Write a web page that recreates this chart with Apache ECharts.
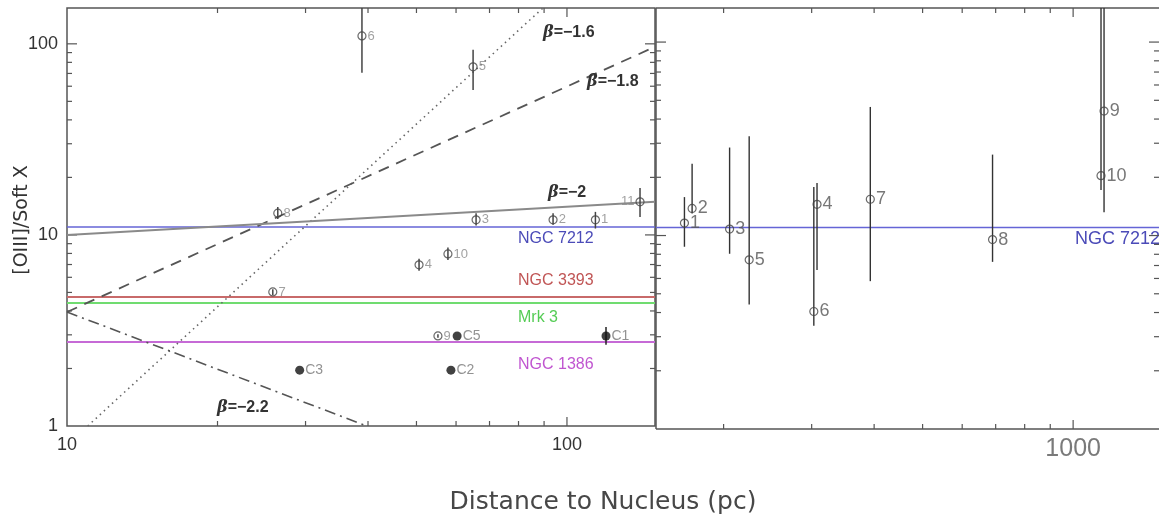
<!DOCTYPE html>
<html lang="en">
<head>
<meta charset="UTF-8">
<title>[OIII]/Soft X vs distance</title>
<script src="https://cdn.jsdelivr.net/npm/echarts@6/dist/echarts.min.js"></script>
<style>
    html, body { margin: 0; padding: 0; background: #fff; }
    #main { width: 1159px; height: 518px; }
</style>
</head>
<body>
<div id="main"></div>
<script type="text/javascript">
    // left panel, open circles (distance pc, ratio, error low/high)
    var innerNames = ['6', '5', '11', '3', '2', '1', '8', '10', '4', '7', '9'];
    var innerDist  = [38.9, 64.9, 140, 65.8, 93.8, 114, 26.4, 57.8, 50.6, 25.8, 55.2];
    var innerRatio = [110, 75.8, 14.9, 12.0, 12.0, 12.0, 13.0, 7.95, 6.97, 5.03, 2.96];
    var innerLow   = [70.5, 57.4, 12.4, 11.2, 11.3, 10.8, 12.1, 7.4, 6.5, 4.85, 2.9];
    var innerHigh  = [154, 93, 17.6, 13.0, 13.0, 13.2, 14.0, 8.6, 7.5, 5.2, 3.02];

    // left panel, filled circles
    var coreNames = ['C1', 'C2', 'C3', 'C5'];
    var coreDist  = [119.7, 58.6, 29.2, 60.3];
    var coreRatio = [2.96, 1.96, 1.96, 2.96];
    var coreLow   = [2.66, 1.96, 1.96, 2.96];
    var coreHigh  = [3.30, 1.96, 1.96, 2.96];

    // right panel, open circles
    var outerNames = ['1', '2', '3', '5', '6', '4', '7', '8', '9', '10'];
    var outerDist  = [167, 173, 205.6, 225, 303, 307.5, 393, 690, 1153, 1137];
    var outerRatio = [11.6, 13.8, 10.8, 7.49, 4.05, 14.5, 15.4, 9.53, 44.0, 20.4];
    var outerLow   = [8.75, 13.0, 8.05, 4.4, 3.42, 6.64, 5.81, 7.31, 13.2, 17.2];
    var outerHigh  = [15.8, 23.5, 28.5, 32.6, 17.8, 18.7, 46.2, 26.2, 150, 150];

    // comparison galaxies (horizontal lines)
    var refNames = ['NGC 7212', 'NGC 3393', 'Mrk 3', 'NGC 1386'];
    var refRatio = [11.0, 4.73, 4.40, 2.75];

    // power-law guides, end points
    var betaNames = ['1.6', '1.8', '2', '2.2'];
    var betaFrom  = [[11.0, 1], [10, 3.95], [10, 10], [10, 3.95]];
    var betaTo    = [[89.5, 154], [150, 96.5], [150, 14.9], [39.8, 1]];

    // tick values
    var xTicksLeft  = [20, 30, 40, 50, 60, 70, 80, 90];
    var xTicksRight = [200, 300, 400, 500, 600, 700, 800, 900];
    var yTicks      = [2, 3, 4, 5, 6, 7, 8, 9, 20, 30, 40, 50, 60, 70, 80, 90];
    var xMajorLeft  = [100];
    var xMajorRight = [1000];
    var yMajor      = [10, 100];

    var FONT = '"Liberation Sans", Arial, sans-serif';

    function decadeLabel(v) {
        var e = Math.log10(v);
        return Math.abs(e - Math.round(e)) < 1e-6 ? String(Math.round(v)) : '';
    }

    function zip(a, b, c) {
        return a.map(function (v, i) { return c ? [v, b[i], c[i]] : [v, b[i]]; });
    }

    // tick marks on all four sides; optional frame lines (right panel has no right edge in view)
    function tickSeries(idx, xMinor, xMajor, ref, frame) {
        return {
            type: 'custom', xAxisIndex: idx, yAxisIndex: idx, silent: true, z: 1,
            data: [ref],
            renderItem: function (params, api) {
                var cs = params.coordSys;
                var l = cs.x, t = cs.y, r = cs.x + cs.width, b = cs.y + cs.height;
                var kids = [];
                function seg(x1, y1, x2, y2, w) {
                    kids.push({type: 'line', shape: {x1: x1, y1: y1, x2: x2, y2: y2},
                        style: {stroke: '#555', lineWidth: w || 1.2}});
                }
                if (frame) {
                    seg(l, t, r, t, 1.5);
                    seg(l, b, r, b, 1.5);
                    seg(l, t, l, b, 1.5);
                }
                xMinor.concat(xMajor).forEach(function (v) {
                    var len = xMajor.indexOf(v) >= 0 ? 9 : 5;
                    var px = api.coord([v, ref[1]])[0];
                    seg(px, b, px, b - len);
                    seg(px, t, px, t + len);
                });
                yTicks.concat(yMajor).forEach(function (v) {
                    var len = yMajor.indexOf(v) >= 0 ? 10 : 5;
                    var py = api.coord([ref[0], v])[1];
                    seg(l, py, l + len, py);
                    seg(r, py, r - len, py);
                });
                return {type: 'group', children: kids};
            }
        };
    }

    function errorSeries(idx, data, color, width) {
        return {
            type: 'custom', xAxisIndex: idx, yAxisIndex: idx, silent: true, z: 4,
            encode: {x: 0, y: [1, 2]},
            data: data,
            renderItem: function (params, api) {
                var lo = api.coord([api.value(0), api.value(1)]);
                var hi = api.coord([api.value(0), api.value(2)]);
                return {type: 'line', shape: {x1: lo[0], y1: lo[1], x2: hi[0], y2: hi[1]},
                    style: {stroke: color, lineWidth: width}};
            }
        };
    }

    function pointSeries(idx, xs, ys, names, filled, labelStyle) {
        return {
            type: 'scatter', xAxisIndex: idx, yAxisIndex: idx, z: 5,
            symbol: 'circle',
            symbolSize: filled ? 9 : 8,
            itemStyle: filled ? {color: '#111'} : {color: 'transparent', borderColor: '#444', borderWidth: 1.2},
            data: xs.map(function (x, i) {
                var item = {value: [x, ys[i]], name: names[i]};
                if (names[i] === '11' && idx === 0) item.label = {position: 'left'};
                return item;
            }),
            label: Object.assign({show: true, position: 'right', distance: 1, formatter: '{b}', fontFamily: FONT}, labelStyle)
        };
    }

    var refColors = ['#6565d6', '#c86a6a', '#70dc70', '#c66ad6'];
    var refText = ['#4b4bb8', '#c05555', '#55cc55', '#c055d0'];

    var series = [tickSeries(0, xTicksLeft, xMajorLeft, [20, 10], false),
                  tickSeries(1, xTicksRight, xMajorRight, [500, 10], true)];

    refRatio.forEach(function (v, i) {
        series.push({
            type: 'line', xAxisIndex: 0, yAxisIndex: 0, z: 2, symbol: 'none', silent: true,
            lineStyle: {color: refColors[i], width: i === 0 ? 1.5 : 2},
            data: [[10, v], [150, v]]
        });
    });
    series.push({
        type: 'line', xAxisIndex: 1, yAxisIndex: 1, z: 2, symbol: 'none', silent: true,
        lineStyle: {color: refColors[0], width: 1.5},
        data: [[146.5, refRatio[0]], [1485, refRatio[0]]]
    });

    var betaStyles = [
        {color: '#666', width: 1.6, type: [1.5, 4]},
        {color: '#555', width: 1.8, type: [11, 8]},
        {color: '#8a8a8a', width: 2, type: 'solid'},
        {color: '#555', width: 1.6, type: [11, 5, 2, 5]}
    ];
    betaFrom.forEach(function (p, i) {
        series.push({
            type: 'line', xAxisIndex: 0, yAxisIndex: 0, z: 3, symbol: 'none', silent: true,
            lineStyle: betaStyles[i],
            data: [p, betaTo[i]]
        });
    });

    series.push(errorSeries(0, zip(innerDist, innerLow, innerHigh), '#444', 1.5));
    series.push(errorSeries(0, zip(coreDist, coreLow, coreHigh), '#222', 1.5));
    series.push(errorSeries(1, zip(outerDist, outerLow, outerHigh), '#333', 1.4));
    series.push(pointSeries(0, innerDist, innerRatio, innerNames, false, {color: '#8a8a8a', fontSize: 13}));
    series.push(pointSeries(0, coreDist, coreRatio, coreNames, true, {color: '#777', fontSize: 14}));
    series.push(pointSeries(1, outerDist, outerRatio, outerNames, false, {color: '#555', fontSize: 18}));

    function betaText(name, x, y) {
        return {
            type: 'text', x: x, y: y, z: 10,
            style: {
                text: '{b|β}{t|=−' + name + '}',
                textVerticalAlign: 'middle',
                rich: {
                    b: {font: 'italic bold 16px "DejaVu Serif", serif', fill: '#333'},
                    t: {font: 'bold 16px ' + FONT, fill: '#333'}
                }
            }
        };
    }

    var graphics = [
        {type: 'text', x: 603, y: 502, style: {text: 'Distance to Nucleus (pc)', font: '25px "DejaVu Sans", sans-serif',
            fill: '#474747', textAlign: 'center', textVerticalAlign: 'middle'}},
        {type: 'text', x: 22, y: 220, rotation: Math.PI / 2, style: {text: '[OIII]/Soft X', font: '19px "DejaVu Sans", sans-serif',
            fill: '#333', textAlign: 'center', textVerticalAlign: 'middle'}},
        {type: 'text', x: 1075, y: 239, style: {text: refNames[0], font: '18px ' + FONT, fill: refText[0], textVerticalAlign: 'middle'}},
        betaText(betaNames[0], 543, 33),
        betaText(betaNames[1], 587, 82),
        betaText(betaNames[2], 548, 193),
        betaText(betaNames[3], 217, 408)
    ];
    var refLabelY = [239, 281, 318, 365];
    refNames.forEach(function (n, i) {
        graphics.push({type: 'text', x: 518, y: refLabelY[i],
            style: {text: n, font: '16px ' + FONT, fill: refText[i], textVerticalAlign: 'middle'}});
    });

    var hidden = {axisLine: {show: false}, axisTick: {show: false}, splitLine: {show: false}};

    var option = {
        backgroundColor: '#fff',
        animation: false,
        grid: [
            {left: 67, top: 8, width: 588, height: 418, show: true, borderColor: '#555', borderWidth: 1.5, backgroundColor: 'transparent'},
            {left: 656, top: 8, width: 505, height: 421, show: false}
        ],
        xAxis: [
            Object.assign({type: 'log', gridIndex: 0, min: 10, max: 150,
                axisLabel: {formatter: decadeLabel, margin: 10, fontSize: 18, color: '#333', fontFamily: FONT,
                    showMinLabel: true, showMaxLabel: false}}, hidden),
            Object.assign({type: 'log', gridIndex: 1, min: 146.5, max: 1485,
                axisLabel: {formatter: decadeLabel, margin: 8, fontSize: 25, color: '#7a7a7a', fontFamily: FONT,
                    showMinLabel: false, showMaxLabel: false}}, hidden)
        ],
        yAxis: [
            Object.assign({type: 'log', gridIndex: 0, min: 1, max: 154,
                axisLabel: {formatter: decadeLabel, margin: 9, fontSize: 18, color: '#333', fontFamily: FONT,
                    showMinLabel: true, showMaxLabel: false}}, hidden),
            Object.assign({type: 'log', gridIndex: 1, min: 1, max: 150, axisLabel: {show: false}}, hidden)
        ],
        graphic: graphics,
        series: series
    };

    var myChart = echarts.init(document.getElementById('main'));
    myChart.setOption(option);
</script>
</body>
</html>
